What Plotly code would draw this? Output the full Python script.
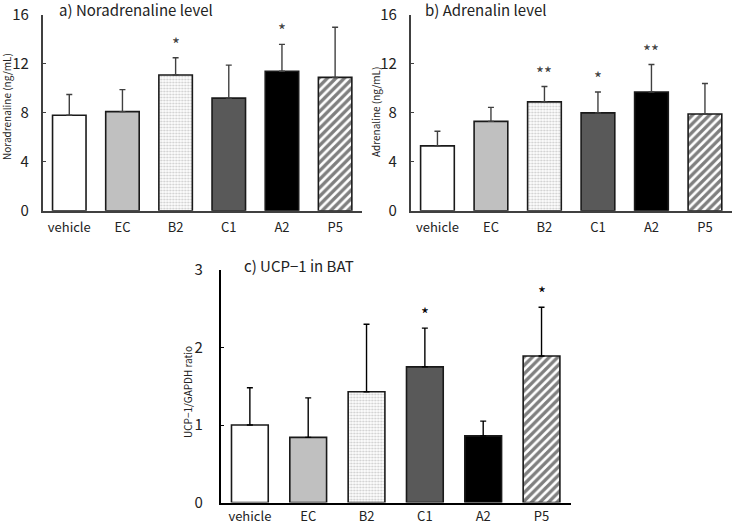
import plotly.graph_objects as go

categories = ["vehicle", "EC", "B2", "C1", "A2", "P5"]

nor_mean = [7.8, 8.1, 11.1, 9.2, 11.4, 10.9]
nor_sd = [1.7, 1.8, 1.4, 2.7, 2.2, 4.1]
nor_sig = ["", "", "*", "", "*", ""]

adr_mean = [5.3, 7.3, 8.9, 8.0, 9.7, 7.9]
adr_sd = [1.2, 1.15, 1.25, 1.7, 2.25, 2.5]
adr_sig = ["", "", "**", "*", "**", ""]

ucp_mean = [1.0, 0.84, 1.43, 1.75, 0.86, 1.89]
ucp_sd = [0.48, 0.51, 0.87, 0.50, 0.19, 0.63]
ucp_sig = ["", "", "", "*", "", "*"]

fill_colors = ["#ffffff", "#c0c0c0", "#ffffff", "#595959", "#000000", "#ffffff"]
pat_shapes = [None, None, ".", None, None, "/"]
pat_fg = [None, None, "#9a9a9a", None, None, "#000000"]
pat_size = [None, None, 3, None, None, 6]
pat_sol = [None, None, 0.4, None, None, 0.55]

FONT = "Noto Sans CJK JP, Noto Sans, sans-serif"
W, H = 733, 527

fig = go.Figure()

panels = [
    dict(mean=nor_mean, sd=nor_sd, sig=nor_sig, xa="x", ya="y", line="#404040"),
    dict(mean=adr_mean, sd=adr_sd, sig=adr_sig, xa="x2", ya="y2", line="#404040"),
    dict(mean=ucp_mean, sd=ucp_sd, sig=ucp_sig, xa="x3", ya="y3", line="#000000"),
]

for p in panels:
    for i, c in enumerate(categories):
        marker = dict(color=fill_colors[i], line=dict(color="#1a1a1a", width=1.6))
        if pat_shapes[i]:
            marker["pattern"] = dict(shape=pat_shapes[i], fgcolor=pat_fg[i],
                                     bgcolor=fill_colors[i], size=pat_size[i],
                                     solidity=pat_sol[i], fillmode="overlay")
        fig.add_trace(go.Bar(
            x=[c], y=[p["mean"][i]], xaxis=p["xa"], yaxis=p["ya"],
            marker=marker,
            error_y=dict(type="data", symmetric=False, array=[p["sd"][i]],
                         arrayminus=[0], color=p["line"], thickness=1.4, width=3),
            showlegend=False, hoverinfo="skip",
        ))
        if p["sig"][i]:
            fig.add_annotation(
                x=c, y=p["mean"][i] + p["sd"][i], xref=p["xa"], yref=p["ya"],
                text=p["sig"][i], showarrow=False, yanchor="bottom", yshift=0,
                font=dict(family=FONT, size=17, color=p["line"]),
            )

def px_x(v):
    return v / W

def px_y(v):
    return 1 - v / H

xfont = dict(family=FONT, size=13, color="#222")
yfont = dict(family=FONT, size=15, color="#222")
base = dict(showgrid=False, zeroline=False, showline=True, linewidth=1.5,
            automargin=False)

fig.update_layout(
    width=W, height=H, autosize=False,
    margin=dict(l=0, r=0, t=0, b=0, pad=0, autoexpand=False),
    paper_bgcolor="white", plot_bgcolor="white",
    barmode="overlay",
    bargap=0.37,
    xaxis=dict(domain=[px_x(42.7), px_x(361.7)], anchor="y", ticks="",
               linecolor="#404040", tickfont=xfont, ticklabelstandoff=4, **base),
    yaxis=dict(domain=[px_y(210.7), px_y(15)], anchor="x", range=[0, 16],
               tickvals=[0, 4, 8, 12, 16], ticks="inside", ticklen=4,
               tickcolor="#404040", linecolor="#404040", ticklabelstandoff=9,
               tickfont=yfont, **base),
    xaxis2=dict(domain=[px_x(410.7), px_x(731.7)], anchor="y2", ticks="",
                linecolor="#404040", tickfont=xfont, ticklabelstandoff=4, **base),
    yaxis2=dict(domain=[px_y(210.7), px_y(15)], anchor="x2", range=[0, 16],
                tickvals=[0, 4, 8, 12, 16], ticks="inside", ticklen=4,
                tickcolor="#404040", linecolor="#404040", ticklabelstandoff=9,
                tickfont=yfont, **base),
    xaxis3=dict(domain=[px_x(220.7), px_x(570.7)], anchor="y3", ticks="",
                linecolor="#000000", tickfont=xfont, ticklabelstandoff=1, **base),
    yaxis3=dict(domain=[px_y(502.5), px_y(270)], anchor="x3", range=[0, 3],
                tickvals=[0, 1, 2, 3], ticks="inside", ticklen=4,
                tickcolor="#000000", linecolor="#000000", ticklabelstandoff=13,
                tickfont=yfont, **base),
)

titles = [
    ("a) Noradrenaline level", 57, 10),
    ("b) Adrenalin level", 423, 10),
    ("c) UCP\u22121 in BAT", 242, 265),
]
for t, x, y in titles:
    fig.add_annotation(text=t, x=px_x(x), y=px_y(y), xref="paper", yref="paper",
                       xanchor="left", yanchor="middle", showarrow=False,
                       font=dict(family=FONT, size=15, color="#222"))

ytitles = [
    ("Noradrenaline (ng/mL)", 7, 107),
    ("Adrenaline (ng/mL)", 375, 112),
    ("UCP\u22121/GAPDH ratio", 187, 392),
]
for t, x, y in ytitles:
    fig.add_annotation(text=t, x=px_x(x), y=px_y(y), xref="paper", yref="paper",
                       xanchor="center", yanchor="middle", showarrow=False,
                       textangle=-90,
                       font=dict(family=FONT, size=10, color="#222"))

fig.write_html(
    "out.html",
    config={"responsive": False, "displayModeBar": False},
    post_script="document.body.style.margin='0';document.body.style.padding='0';"
                "document.documentElement.style.overflow='hidden';",
)
